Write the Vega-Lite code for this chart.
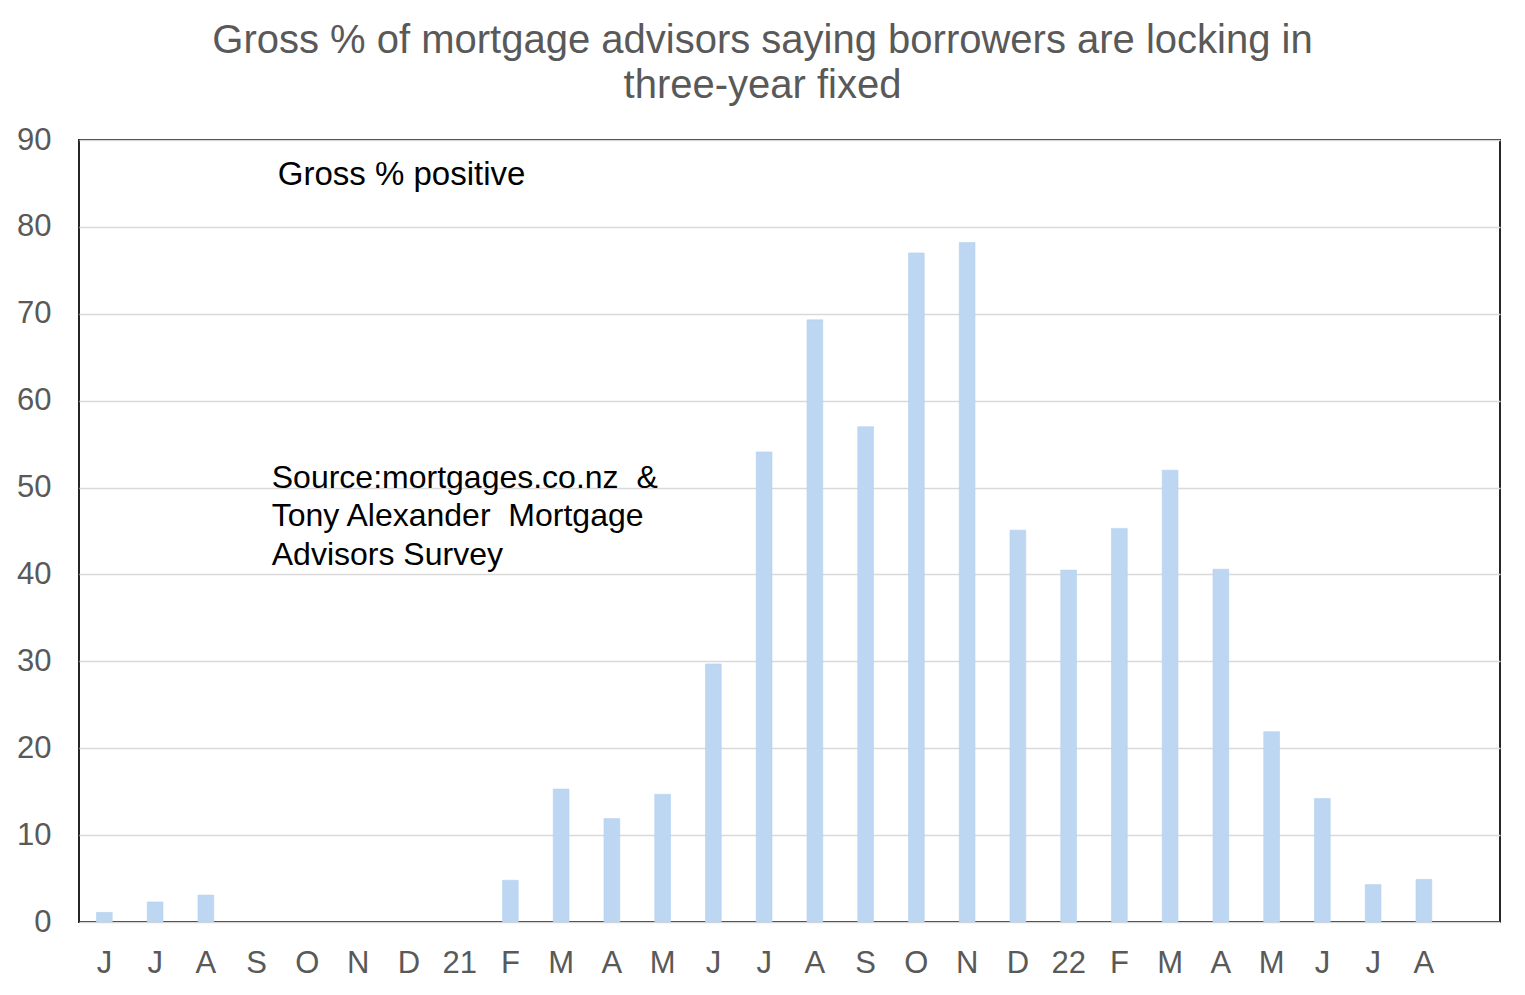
{
  "$schema": "https://vega.github.io/schema/vega-lite/v6.json",
  "autosize": "none",
  "width": 1421,
  "height": 782,
  "padding": {"left": 79, "top": 140, "right": 25, "bottom": 73},
  "background": "white",
  "config": {
    "font": "Liberation Sans",
    "view": {"stroke": "#262626", "strokeWidth": 2}
  },
  "title": {
    "text": ["Gross % of mortgage advisors saying borrowers are locking in", "three-year fixed"],
    "fontSize": 40,
    "fontWeight": "normal",
    "color": "#595959",
    "lineHeight": 45,
    "anchor": "middle",
    "dx": -27,
    "offset": 18
  },
  "datasets": {
    "bars": [
      {"month": "J 0", "pct": 1.1},
      {"month": "J 1", "pct": 2.3},
      {"month": "A 2", "pct": 3.1},
      {"month": "F 8", "pct": 4.8},
      {"month": "M 9", "pct": 15.3},
      {"month": "A 10", "pct": 11.9},
      {"month": "M 11", "pct": 14.7},
      {"month": "J 12", "pct": 29.7},
      {"month": "J 13", "pct": 54.1},
      {"month": "A 14", "pct": 69.3},
      {"month": "S 15", "pct": 57.0},
      {"month": "O 16", "pct": 77.0},
      {"month": "N 17", "pct": 78.2},
      {"month": "D 18", "pct": 45.1},
      {"month": "22 19", "pct": 40.5},
      {"month": "F 20", "pct": 45.3},
      {"month": "M 21", "pct": 52.0},
      {"month": "A 22", "pct": 40.6},
      {"month": "M 23", "pct": 21.9},
      {"month": "J 24", "pct": 14.2},
      {"month": "J 25", "pct": 4.3},
      {"month": "A 26", "pct": 4.9}
    ],
    "notes": [
      {"month": "S 3", "pct": 86.0, "note": ["Gross % positive"], "size": 33, "shift": 29},
      {"month": "S 3", "pct": 51.1, "note": ["Source:mortgages.co.nz \u00a0&", "Tony Alexander \u00a0Mortgage", "Advisors Survey"], "size": 32, "shift": 23}
    ]
  },
  "encoding": {
    "x": {
      "field": "month",
      "type": "nominal",
      "sort": null,
      "scale": {
        "domain": ["J 0", "J 1", "A 2", "S 3", "O 4", "N 5", "D 6", "21 7", "F 8", "M 9", "A 10", "M 11", "J 12", "J 13", "A 14", "S 15", "O 16", "N 17", "D 18", "22 19", "F 20", "M 21", "A 22", "M 23", "J 24", "J 25", "A 26", " 27"],
        "paddingInner": 0.69,
        "paddingOuter": 0.345
      },
      "axis": {
        "title": null,
        "labelExpr": "split(datum.value, ' ')[0]",
        "labelAngle": 0,
        "labelFontSize": 31,
        "labelColor": "#595959",
        "labelPadding": 26,
        "domain": false,
        "ticks": false,
        "grid": false
      }
    },
    "y": {
      "field": "pct",
      "type": "quantitative",
      "scale": {"domain": [0, 90], "nice": false},
      "axis": {
        "title": null,
        "values": [0, 10, 20, 30, 40, 50, 60, 70, 80, 90],
        "labelFontSize": 31,
        "labelColor": "#595959",
        "labelPadding": 28,
        "domain": false,
        "ticks": false,
        "grid": true,
        "gridColor": "#d9d9d9",
        "gridWidth": 1.5
      }
    }
  },
  "layer": [
    {
      "data": {"name": "bars"},
      "mark": {"type": "bar", "color": "#BDD7F3", "stroke": "#B4D0EE", "strokeWidth": 0.6}
    },
    {
      "data": {"name": "notes"},
      "mark": {"type": "text", "align": "left", "baseline": "middle", "color": "black", "lineHeight": 38.5},
      "encoding": {
        "text": {"field": "note"},
        "size": {"field": "size", "type": "quantitative", "scale": null},
        "xOffset": {"field": "shift", "type": "quantitative", "scale": null}
      }
    }
  ]
}
